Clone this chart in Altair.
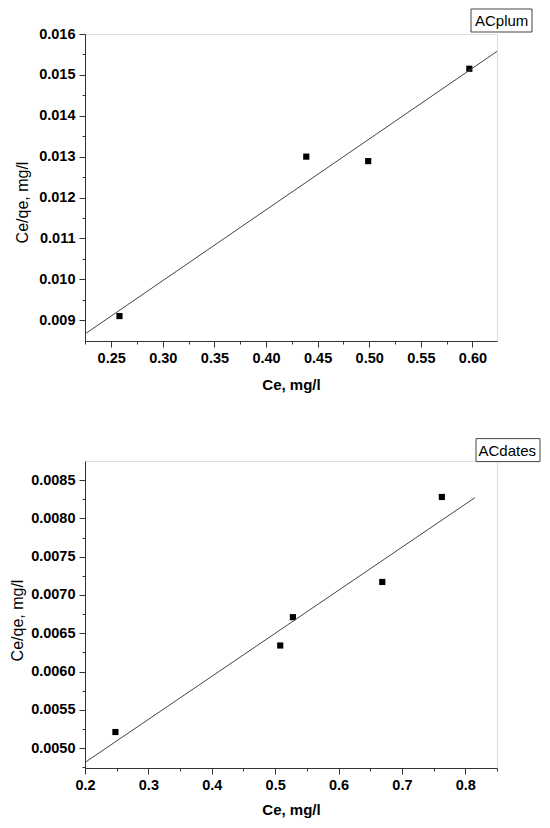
import altair as alt
import pandas as pd

# ---- data ----
plum_ce = [0.258, 0.439, 0.499, 0.597]
plum_ceqe = [0.00910, 0.01300, 0.01289, 0.01515]
plum_label = ["ACplum"]

dates_ce = [0.248, 0.508, 0.528, 0.669, 0.763]
dates_ceqe = [0.00521, 0.00634, 0.00671, 0.00717, 0.00828]
dates_label = ["ACdates"]

# axis ranges and tick values
plum_x_domain = [0.2246, 0.6238]
plum_y_domain = [0.00849, 0.016]
plum_x_major = [0.25, 0.30, 0.35, 0.40, 0.45, 0.50, 0.55, 0.60]
plum_x_minor = [0.225, 0.275, 0.325, 0.375, 0.425, 0.475, 0.525, 0.575]
plum_y_major = [0.009, 0.010, 0.011, 0.012, 0.013, 0.014, 0.015, 0.016]
plum_y_minor = [0.0095, 0.0105, 0.0115, 0.0125, 0.0135, 0.0145, 0.0155]

dates_x_domain = [0.2, 0.85]
dates_y_domain = [0.00474, 0.00875]
dates_x_major = [0.2, 0.3, 0.4, 0.5, 0.6, 0.7, 0.8]
dates_x_minor = [0.25, 0.35, 0.45, 0.55, 0.65, 0.75, 0.85]
dates_y_major = [0.0050, 0.0055, 0.0060, 0.0065, 0.0070, 0.0075, 0.0080,
                 0.0085]
dates_y_minor = [0.00475, 0.00525, 0.00575, 0.00625, 0.00675, 0.00725,
                 0.00775, 0.00825]

FONT = "Liberation Sans"
AX = "#333333"


def major_axis(values, fmt, orient, title, title_x=None, title_y=None,
               title_font_size=15, title_weight="bold", title_baseline=None):
    kw = dict(
        values=values,
        orient=orient,
        title=title,
        format=fmt,
        tickSize=6,
        tickColor=AX,
        tickWidth=1,
        domainColor=AX,
        domainWidth=1,
        grid=False,
        labelFont=FONT,
        labelFontSize=14.5,
        labelFontWeight="bold",
        labelColor="black",
        labelPadding=4,
        labelFlush=False,
        labelOverlap=False,
        titleFont=FONT,
        titleFontSize=title_font_size,
        titleFontWeight=title_weight,
        titleColor="black",
    )
    if title_x is not None:
        kw["titleX"] = title_x
    if title_y is not None:
        kw["titleY"] = title_y
    if title_baseline is not None:
        kw["titleBaseline"] = title_baseline
    return alt.Axis(**kw)


def minor_axis(values, orient):
    return alt.Axis(values=values, orient=orient, title=None, labels=False,
                    domain=False, grid=False, tickSize=3, tickColor=AX,
                    tickWidth=1)


def panel(ce, ceqe, label, xdom, ydom, xmaj, xmin, ymaj, ymin,
          xfmt, yfmt, ytitle_x, ytitle_y, xtitle_y, reg_extent, box):
    df = pd.DataFrame({"ce": ce, "ceqe": ceqe})
    xs = alt.Scale(domain=xdom, zero=False, nice=False)
    ys = alt.Scale(domain=ydom, zero=False, nice=False)
    base = alt.Chart(df)
    pts = base.mark_square(size=38, opacity=1, color="black").encode(
        x=alt.X("ce:Q", scale=xs,
                axis=major_axis(xmaj, xfmt, "bottom", "Ce, mg/l",
                                title_y=xtitle_y, title_font_size=15,
                                title_weight="bold",
                                title_baseline="alphabetic")),
        y=alt.Y("ceqe:Q", scale=ys,
                axis=major_axis(ymaj, yfmt, "left", "Ce/qe, mg/l",
                                title_x=ytitle_x, title_y=ytitle_y,
                                title_font_size=16, title_weight="normal",
                                title_baseline="middle")),
    )
    minor = base.mark_point(opacity=0).encode(
        x=alt.X("ce:Q", scale=xs, axis=minor_axis(xmin, "bottom")),
        y=alt.Y("ceqe:Q", scale=ys, axis=minor_axis(ymin, "left")),
    )
    line = base.transform_regression(
        "ce", "ceqe", extent=reg_extent
    ).mark_line(color="#444444", strokeWidth=1, clip=True).encode(
        x=alt.X("ce:Q", axis=None), y=alt.Y("ceqe:Q", axis=None)
    )
    ldf = pd.DataFrame({"name": label})
    x0, x1, y0, y1, tx = box
    frame = alt.Chart(ldf).mark_rect(
        fill="white", stroke="#444444", strokeWidth=1
    ).encode(x=alt.value(x0), x2=alt.value(x1), y=alt.value(y0),
             y2=alt.value(y1))
    text = alt.Chart(ldf).mark_text(
        align="left", baseline="middle", font=FONT, fontSize=15,
        color="black"
    ).encode(x=alt.value(tx), y=alt.value((y0 + y1) / 2 + 0.5),
             text="name:N")
    return alt.layer(pts, minor, line, frame, text).resolve_scale(
        x="shared", y="shared"
    ).resolve_axis(x="independent", y="independent").properties(
        width=412, height=307)


top = panel(plum_ce, plum_ceqe, plum_label, plum_x_domain, plum_y_domain,
            plum_x_major, plum_x_minor, plum_y_major, plum_y_minor,
            ".2f", ".3f",
            ytitle_x=-63, ytitle_y=168, xtitle_y=48,
            reg_extent=[0.2246, 0.6238],
            box=(386, 447, -25, -2, 390))

bottom = panel(dates_ce, dates_ceqe, dates_label, dates_x_domain,
               dates_y_domain, dates_x_major, dates_x_minor, dates_y_major,
               dates_y_minor, ".1f", ".4f",
               ytitle_x=-68, ytitle_y=159, xtitle_y=46,
               reg_extent=[0.2, 0.815],
               box=(391, 455, -22.4, 0.6, 393.5))

chart = alt.vconcat(top, bottom, spacing=120, bounds="flush").properties(
    padding={"left": 0, "top": 0, "right": 0, "bottom": 0}
).configure_view(stroke=None).configure(font=FONT, background="white")

chart.save("out.html", embed_options={"renderer": "svg", "actions": False})
